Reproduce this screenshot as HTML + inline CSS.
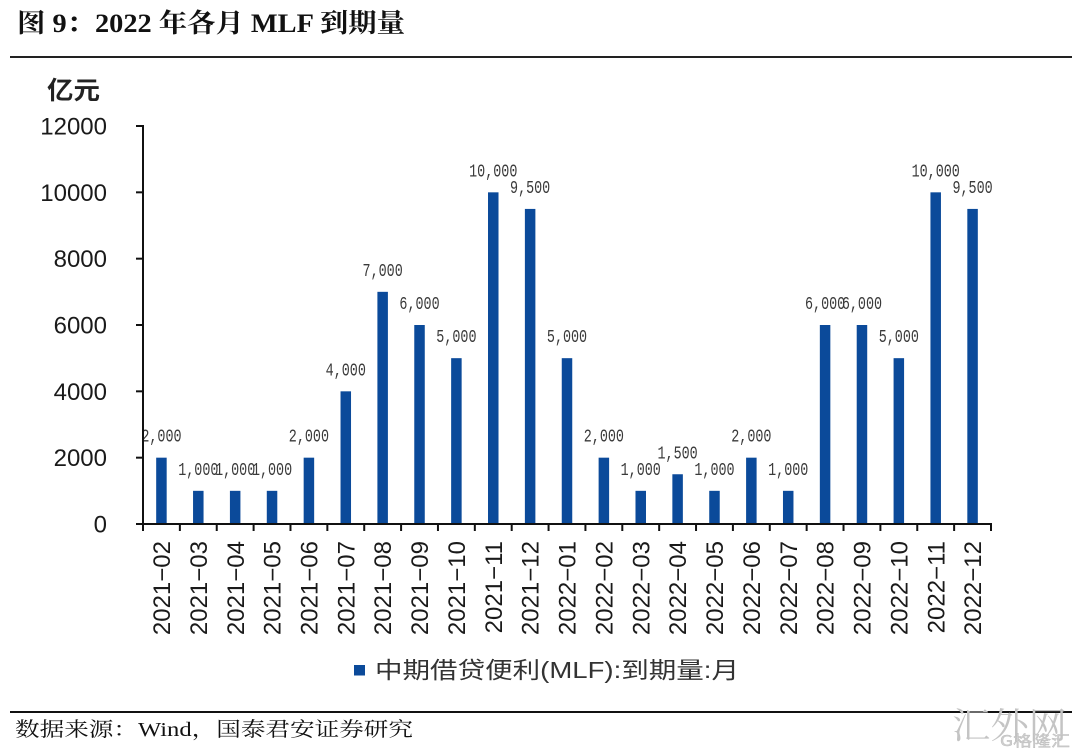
<!DOCTYPE html>
<html>
<head>
<meta charset="utf-8">
<style>
html,body{margin:0;padding:0;background:#fff;}
svg{display:block;}
.yl{font-family:"Liberation Sans",Arial,sans-serif;font-size:24px;fill:#1a1a1a;}
.xl{font-family:"Liberation Sans",Arial,sans-serif;font-size:24px;fill:#1a1a1a;}
.dl{font-family:"Liberation Mono","DejaVu Sans Mono",monospace;font-size:13.4px;fill:#3a3a3a;}
</style>
</head>
<body>
<svg width="1080" height="756" viewBox="0 0 1080 756" xmlns="http://www.w3.org/2000/svg">
<defs>
<clipPath id="pc"><rect x="143.5" y="0" width="940" height="600"/></clipPath>
</defs>
<!-- Title -->
<text x="17" y="32" font-family="'Liberation Serif','Noto Serif CJK SC',serif" font-weight="bold" font-size="26" fill="#111" textLength="388" lengthAdjust="spacingAndGlyphs">图 9：2022 年各月 MLF 到期量</text>
<line x1="10" y1="57" x2="1072" y2="57" stroke="#222" stroke-width="2"/>

<!-- unit -->
<text x="47" y="99" font-family="'Liberation Sans','Noto Sans CJK SC',sans-serif" font-weight="bold" font-size="25" fill="#222" textLength="53" lengthAdjust="spacingAndGlyphs">亿元</text>

<!-- Y axis labels -->
<g class="yl" text-anchor="end">
<text x="107" y="134.5">12000</text>
<text x="107" y="200.8">10000</text>
<text x="107" y="267.2">8000</text>
<text x="107" y="333.5">6000</text>
<text x="107" y="399.8">4000</text>
<text x="107" y="466.2">2000</text>
<text x="107" y="532.5">0</text>
</g>

<!-- Bars -->
<g fill="#0B4A9A">
<rect x="156.18" y="457.67" width="10.5" height="66.33"/>
<rect x="193.05" y="490.83" width="10.5" height="33.17"/>
<rect x="229.92" y="490.83" width="10.5" height="33.17"/>
<rect x="266.79" y="490.83" width="10.5" height="33.17"/>
<rect x="303.66" y="457.67" width="10.5" height="66.33"/>
<rect x="340.53" y="391.33" width="10.5" height="132.67"/>
<rect x="377.40" y="291.83" width="10.5" height="232.17"/>
<rect x="414.27" y="325" width="10.5" height="199"/>
<rect x="451.14" y="358.17" width="10.5" height="165.83"/>
<rect x="488.01" y="192.33" width="10.5" height="331.67"/>
<rect x="524.88" y="208.92" width="10.5" height="315.08"/>
<rect x="561.75" y="358.17" width="10.5" height="165.83"/>
<rect x="598.62" y="457.67" width="10.5" height="66.33"/>
<rect x="635.49" y="490.83" width="10.5" height="33.17"/>
<rect x="672.36" y="474.25" width="10.5" height="49.75"/>
<rect x="709.23" y="490.83" width="10.5" height="33.17"/>
<rect x="746.10" y="457.67" width="10.5" height="66.33"/>
<rect x="782.97" y="490.83" width="10.5" height="33.17"/>
<rect x="819.84" y="325" width="10.5" height="199"/>
<rect x="856.71" y="325" width="10.5" height="199"/>
<rect x="893.58" y="358.17" width="10.5" height="165.83"/>
<rect x="930.45" y="192.33" width="10.5" height="331.67"/>
<rect x="967.32" y="208.92" width="10.5" height="315.08"/>
</g>

<!-- Data labels -->
<g class="dl" text-anchor="middle" clip-path="url(#pc)">
<text transform="translate(161.43,441.67) scale(1,1.4)">2,000</text>
<text transform="translate(198.30,474.83) scale(1,1.4)">1,000</text>
<text transform="translate(235.17,474.83) scale(1,1.4)">1,000</text>
<text transform="translate(272.04,474.83) scale(1,1.4)">1,000</text>
<text transform="translate(308.91,441.67) scale(1,1.4)">2,000</text>
<text transform="translate(345.78,375.33) scale(1,1.4)">4,000</text>
<text transform="translate(382.65,275.83) scale(1,1.4)">7,000</text>
<text transform="translate(419.52,309) scale(1,1.4)">6,000</text>
<text transform="translate(456.39,342.17) scale(1,1.4)">5,000</text>
<text transform="translate(493.26,176.33) scale(1,1.4)">10,000</text>
<text transform="translate(530.13,192.92) scale(1,1.4)">9,500</text>
<text transform="translate(567.00,342.17) scale(1,1.4)">5,000</text>
<text transform="translate(603.87,441.67) scale(1,1.4)">2,000</text>
<text transform="translate(640.74,474.83) scale(1,1.4)">1,000</text>
<text transform="translate(677.61,458.25) scale(1,1.4)">1,500</text>
<text transform="translate(714.48,474.83) scale(1,1.4)">1,000</text>
<text transform="translate(751.35,441.67) scale(1,1.4)">2,000</text>
<text transform="translate(788.22,474.83) scale(1,1.4)">1,000</text>
<text transform="translate(825.09,309) scale(1,1.4)">6,000</text>
<text transform="translate(861.96,309) scale(1,1.4)">6,000</text>
<text transform="translate(898.83,342.17) scale(1,1.4)">5,000</text>
<text transform="translate(935.70,176.33) scale(1,1.4)">10,000</text>
<text transform="translate(972.57,192.92) scale(1,1.4)">9,500</text>
</g>

<!-- Axes -->
<g stroke="#111" stroke-width="2" fill="none">
<line x1="143" y1="125" x2="143" y2="525"/>
<line x1="142" y1="524" x2="992" y2="524"/>
<!-- y ticks -->
<line x1="136" y1="126" x2="143" y2="126"/>
<line x1="136" y1="192.33" x2="143" y2="192.33"/>
<line x1="136" y1="258.67" x2="143" y2="258.67"/>
<line x1="136" y1="325" x2="143" y2="325"/>
<line x1="136" y1="391.33" x2="143" y2="391.33"/>
<line x1="136" y1="457.67" x2="143" y2="457.67"/>
<line x1="136" y1="524" x2="143" y2="524"/>
<!-- x ticks -->
<line x1="143" y1="524" x2="143" y2="531"/>
<line x1="179.87" y1="524" x2="179.87" y2="531"/>
<line x1="216.74" y1="524" x2="216.74" y2="531"/>
<line x1="253.61" y1="524" x2="253.61" y2="531"/>
<line x1="290.48" y1="524" x2="290.48" y2="531"/>
<line x1="327.35" y1="524" x2="327.35" y2="531"/>
<line x1="364.22" y1="524" x2="364.22" y2="531"/>
<line x1="401.09" y1="524" x2="401.09" y2="531"/>
<line x1="437.96" y1="524" x2="437.96" y2="531"/>
<line x1="474.83" y1="524" x2="474.83" y2="531"/>
<line x1="511.70" y1="524" x2="511.70" y2="531"/>
<line x1="548.57" y1="524" x2="548.57" y2="531"/>
<line x1="585.43" y1="524" x2="585.43" y2="531"/>
<line x1="622.30" y1="524" x2="622.30" y2="531"/>
<line x1="659.17" y1="524" x2="659.17" y2="531"/>
<line x1="696.04" y1="524" x2="696.04" y2="531"/>
<line x1="732.91" y1="524" x2="732.91" y2="531"/>
<line x1="769.78" y1="524" x2="769.78" y2="531"/>
<line x1="806.65" y1="524" x2="806.65" y2="531"/>
<line x1="843.52" y1="524" x2="843.52" y2="531"/>
<line x1="880.39" y1="524" x2="880.39" y2="531"/>
<line x1="917.26" y1="524" x2="917.26" y2="531"/>
<line x1="954.13" y1="524" x2="954.13" y2="531"/>
<line x1="991" y1="524" x2="991" y2="531"/>
</g>

<!-- X labels -->
<g class="xl" text-anchor="end">
<text transform="translate(170.0,541) rotate(-90)">2021−02</text>
<text transform="translate(206.9,541) rotate(-90)">2021−03</text>
<text transform="translate(243.8,541) rotate(-90)">2021−04</text>
<text transform="translate(280.6,541) rotate(-90)">2021−05</text>
<text transform="translate(317.5,541) rotate(-90)">2021−06</text>
<text transform="translate(354.4,541) rotate(-90)">2021−07</text>
<text transform="translate(391.2,541) rotate(-90)">2021−08</text>
<text transform="translate(428.1,541) rotate(-90)">2021−09</text>
<text transform="translate(465.0,541) rotate(-90)">2021−10</text>
<text transform="translate(501.9,541) rotate(-90)">2021−11</text>
<text transform="translate(538.7,541) rotate(-90)">2021−12</text>
<text transform="translate(575.6,541) rotate(-90)">2022−01</text>
<text transform="translate(612.5,541) rotate(-90)">2022−02</text>
<text transform="translate(649.3,541) rotate(-90)">2022−03</text>
<text transform="translate(686.2,541) rotate(-90)">2022−04</text>
<text transform="translate(723.1,541) rotate(-90)">2022−05</text>
<text transform="translate(760.0,541) rotate(-90)">2022−06</text>
<text transform="translate(796.8,541) rotate(-90)">2022−07</text>
<text transform="translate(833.7,541) rotate(-90)">2022−08</text>
<text transform="translate(870.6,541) rotate(-90)">2022−09</text>
<text transform="translate(907.4,541) rotate(-90)">2022−10</text>
<text transform="translate(944.3,541) rotate(-90)">2022−11</text>
<text transform="translate(981.2,541) rotate(-90)">2022−12</text>
</g>

<!-- Legend -->
<rect x="354" y="665" width="11" height="10.5" fill="#0B4A9A"/>
<text x="375" y="678" font-family="'Liberation Sans','Noto Sans CJK SC',sans-serif" font-size="23" fill="#333" textLength="364" lengthAdjust="spacingAndGlyphs">中期借贷便利(MLF):到期量:月</text>

<!-- Footer -->
<line x1="10" y1="712" x2="1072" y2="712" stroke="#111" stroke-width="2"/>
<text x="15" y="736" font-family="'Liberation Serif','Noto Serif CJK SC',serif" font-size="20" fill="#111" textLength="398" lengthAdjust="spacingAndGlyphs">数据来源：Wind，国泰君安证券研究</text>

<!-- Watermark -->
<text x="952" y="738" font-family="'Noto Serif CJK SC',serif" font-size="36" fill="#c4c4c4" textLength="115" lengthAdjust="spacingAndGlyphs">汇外网</text>
<text x="1000" y="746" font-family="'Noto Sans CJK SC',sans-serif" font-size="15" fill="#d0d0d0" stroke="#bbb" stroke-width="0.4" textLength="70" lengthAdjust="spacingAndGlyphs">G格隆汇</text>
</svg>
</body>
</html>
